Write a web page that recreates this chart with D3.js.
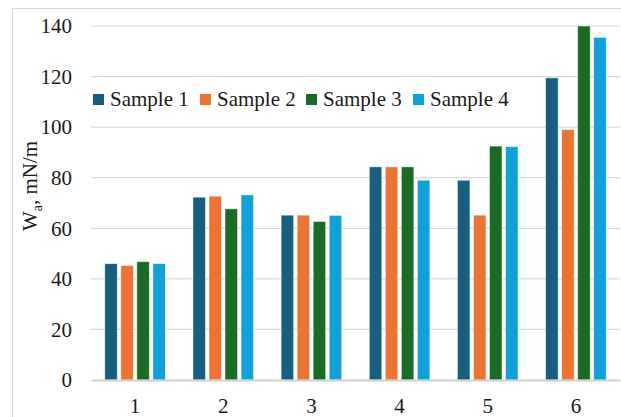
<!DOCTYPE html>
<html>
<head>
<meta charset="utf-8">
<script src="https://cdn.jsdelivr.net/npm/d3@7"></script>
<style>
  body { margin: 0; background: #fff; }
  svg text { font-family: "Liberation Serif", "Times New Roman", serif !important; }
</style>
</head>
<body>
<svg></svg>
<script>
var categories = ["1", "2", "3", "4", "5", "6"];
var seriesNames = ["Sample 1", "Sample 2", "Sample 3", "Sample 4"];
var sample1 = [46, 72.3, 65.2, 84.3, 79, 119.5];
var sample2 = [45.3, 72.7, 65.2, 84.3, 65.2, 99];
var sample3 = [46.8, 67.7, 62.7, 84.3, 92.5, 140];
var sample4 = [46, 73.2, 65.1, 79, 92.3, 135.5];
var yTicks = [0, 20, 40, 60, 80, 100, 120, 140];
var colors = ["#175e80", "#eb7334", "#1b6b27", "#11a0d8"];

var screen = {width: 621, height: 417};
var margins = {top: 26, right: 1, bottom: 37, left: 91};
var width = screen.width - margins.left - margins.right;
var height = screen.height - margins.top - margins.bottom;

var values = [sample1, sample2, sample3, sample4];

var svg = d3.select("svg")
    .attr("width", screen.width)
    .attr("height", screen.height)
    .style("display", "block");

// outer chart border
svg.append("rect")
    .attr("x", 12.5).attr("y", 8.5)
    .attr("width", screen.width)
    .attr("height", screen.height)
    .attr("fill", "none")
    .attr("stroke", "#d9d9d9");

var g = svg.append("g")
    .attr("transform", "translate(" + margins.left + "," + margins.top + ")");

var x0 = d3.scaleBand().domain(categories).range([0, width])
    .paddingInner(24 / 88).paddingOuter(12 / 88);
var x1 = d3.scaleBand().domain(d3.range(seriesNames.length)).range([0, x0.bandwidth()])
    .paddingInner(0.22).paddingOuter(0.11);
var yScale = d3.scaleLinear().domain([0, 140]).range([height, 0]);

// gridlines
g.append("g")
    .selectAll("line")
    .data(yTicks.slice(1))
    .enter()
    .append("line")
    .attr("x1", 0).attr("x2", width)
    .attr("y1", function(d){ return yScale(d); })
    .attr("y2", function(d){ return yScale(d); })
    .attr("stroke", "#d9d9d9")
    .attr("stroke-width", 1.2);

// y axis labels
var yAxis = d3.axisLeft(yScale).tickValues(yTicks).tickSize(0).tickPadding(19);
g.append("g").call(yAxis)
    .call(function(a){ a.select(".domain").remove(); })
    .selectAll("text")
    .attr("font-size", 21)
    .attr("fill", "#1a1a1a");

// bars
var groups = g.selectAll(".grp")
    .data(categories)
    .enter()
    .append("g")
    .attr("class", "grp")
    .attr("transform", function(d){ return "translate(" + x0(d) + ",0)"; });

groups.selectAll("rect")
    .data(function(d, i){ return values.map(function(s, j){ return {s: j, v: s[i]}; }); })
    .enter()
    .append("rect")
    .attr("x", function(d){ return x1(d.s); })
    .attr("width", x1.bandwidth())
    .attr("y", function(d){ return yScale(d.v); })
    .attr("height", function(d){ return height - yScale(d.v); })
    .attr("fill", function(d){ return colors[d.s]; })
    .attr("stroke", "#ffffff")
    .attr("stroke-opacity", 0.6)
    .attr("stroke-width", 0.8);

// x axis
var xAxis = d3.axisBottom(x0).tickSize(0).tickPadding(18);
var xa = g.append("g")
    .attr("transform", "translate(0," + height + ")")
    .call(xAxis);
xa.select(".domain").attr("stroke", "#d0d0d0").attr("stroke-width", 2.2);
xa.selectAll("text")
    .attr("font-size", 21)
    .attr("fill", "#1a1a1a");

// y title
var title = svg.append("text")
    .attr("transform", "translate(37,186) rotate(-90)")
    .attr("text-anchor", "middle")
    .attr("font-size", 21)
    .attr("fill", "#1a1a1a");
title.append("tspan").text("W");
title.append("tspan").attr("font-size", 14).attr("dy", 5).text("a");
title.append("tspan").attr("dy", -5).text(", mN/m");

// legend
var legendX = [93, 200, 306, 413];
var items = svg.append("g").selectAll("g")
    .data(seriesNames)
    .enter()
    .append("g")
    .attr("transform", function(d, i){ return "translate(" + legendX[i] + ",94)"; });
items.append("rect")
    .attr("width", 11).attr("height", 11)
    .attr("fill", function(d, i){ return colors[i]; });
items.append("text")
    .attr("x", 17).attr("y", 12)
    .attr("font-size", 21)
    .attr("fill", "#1a1a1a")
    .text(function(d){ return d; });
</script>
</body>
</html>
